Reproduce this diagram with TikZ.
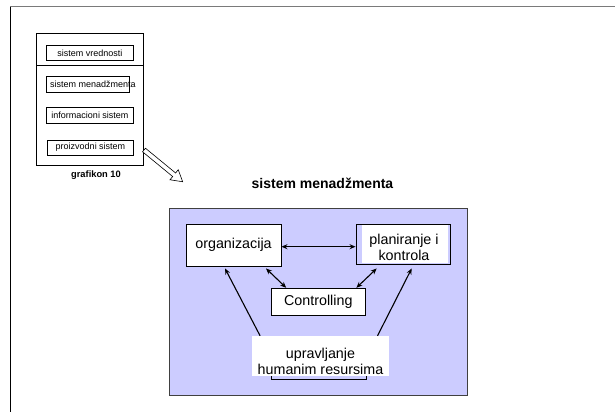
\documentclass[tikz,border=0pt]{standalone}
\usepackage{fontspec}
\setmainfont{Liberation Sans}
\usetikzlibrary{arrows.meta}
\definecolor{panelblue}{HTML}{CCCCFF}
\definecolor{framegray}{HTML}{7A7A7A}
\begin{document}
\begin{tikzpicture}[x=1pt,y=-1pt,
  smallbox/.style={draw=black, line width=0.7pt, minimum width=86.6pt,
    minimum height=15.6pt, inner sep=0pt},
  smalltext/.style={font=\fontsize{9}{10}\selectfont, inner sep=0pt},
  mainbox/.style={draw=black, fill=white, line width=0.9pt, inner sep=0pt},
  maintext/.style={font=\fontsize{14.3}{15.6}\selectfont, align=center, inner sep=0pt},
  tip/.tip={Stealth[length=6pt,width=5pt]},
  link/.style={line width=1.1pt, -tip},
  twoway/.style={line width=1.1pt, tip-tip},
]
\useasboundingbox (0,0) rectangle (615,412);
\fill[white] (0,0) rectangle (615,412);

% page frame
\draw[framegray, line width=0.9pt] (10,6.7) -- (615,6.7);
\draw[black, line width=0.9pt] (10.5,6.7) -- (10.5,412);

% overview panel with the four systems
\draw[black, line width=0.8pt] (36,33.3) rectangle (143.3,165.7);
\draw[black, line width=0.8pt] (36,65) -- (143.3,65);
\node[smallbox] (vred) at (90,53) {};
\node[smalltext] (vredt) at (vred.center) {sistem vrednosti};
\node[smallbox, minimum width=82.3pt] (mgmt) at (87.85,84.5) {};
\node[smalltext] (mgmtt) at (92.8,84.5) {sistem menadžmenta};
\node[smallbox] (info) at (90,115.5) {};
\node[smalltext] (infot) at (info.center) {informacioni sistem};
\node[smallbox, minimum height=15pt] (proi) at (90.5,147.5) {};
\node[smalltext] (proit) at (proi.center) {proizvodni sistem};
\node[font=\fontsize{9.3}{10}\bfseries\selectfont, inner sep=0pt] (graf) at (96,175.5) {grafikon 10};

% hollow pointer towards the detail
\begin{scope}[shift={(144,150)}, rotate=-39.4]
  \draw[black, line width=0.6pt, fill=white]
    (0,-2.3) -- (39,-2.3) -- (39,-6.5) -- (50,0) -- (39,6.5) -- (39,2.3) -- (0,2.3) -- cycle;
\end{scope}

% detail: sistem menadzmenta
\node[font=\fontsize{14}{16}\bfseries\selectfont, inner sep=0pt] (title) at (322.5,183.3) {sistem menadžmenta};
\draw[draw=black!75, fill=panelblue, line width=1pt] (169.3,208.3) rectangle (467.3,395);

\node[mainbox, minimum width=95pt, minimum height=42pt] (org) at (233.5,245) {};
\node[maintext] (orgt) at (org.center) {organizacija};

\node[draw=black, line width=0.9pt, minimum width=94pt, minimum height=40pt, inner sep=0pt] (plan) at (403,244) {};
\node[fill=white, minimum width=86pt, minimum height=38.5pt, inner sep=0pt] (planbg) at (405,244) {};
\node[maintext] (plant) at (404,247.5) {planiranje i\\kontrola};

\node[mainbox, minimum width=94.7pt, minimum height=26.7pt] (ctrl) at (318.3,301.6) {};
\node[maintext] (ctrlt) at (ctrl.center) {Controlling};

\node[draw=black, line width=0.9pt, minimum width=95pt, minimum height=43pt, inner sep=0pt] (upr) at (318.5,357.5) {};
\node[fill=white, minimum width=137pt, minimum height=40pt, inner sep=0pt] (uprbg) at (320.5,356) {};
\node[maintext] (uprt) at (320.5,361.5) {upravljanje\\humanim resursima};

% relations
\draw[twoway] ([yshift=-1.7pt]org.east) -- ([yshift=-2.7pt]plan.west);
\draw[twoway] ([xshift=32.5pt,yshift=-2pt]org.south) -- ([xshift=15.7pt]ctrl.north west);
\draw[twoway] ([xshift=-26.3pt,yshift=-4pt]plan.south) -- ([xshift=-9.7pt]ctrl.north east);
\draw[link] ([xshift=8.3pt]uprbg.north west) -- ([xshift=-8.5pt,yshift=-2pt]org.south);
\draw[link] ([xshift=-11.7pt]uprbg.north east) -- ([xshift=8.7pt,yshift=-4pt]plan.south);
\end{tikzpicture}
\end{document}
